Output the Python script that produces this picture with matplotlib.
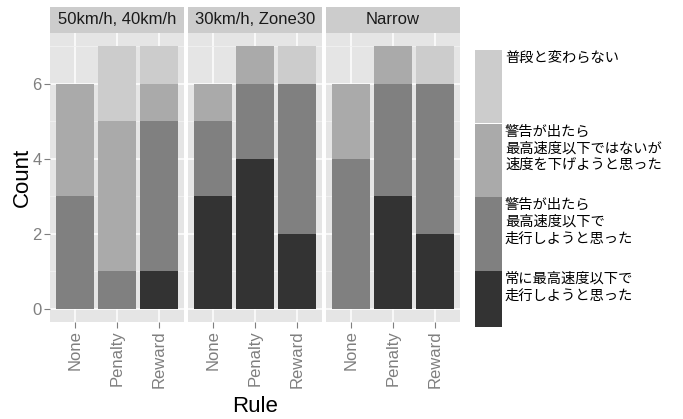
import matplotlib

matplotlib.use("Agg")

import matplotlib.pyplot as plt
import numpy as np
from matplotlib.patches import Rectangle

plt.rcParams["font.family"] = ["Liberation Sans", "Noto Sans CJK JP", "DejaVu Sans"]

FACETS = ["50km/h, 40km/h", "30km/h, Zone30", "Narrow"]
RULES = ["None", "Penalty", "Reward"]

# stacked bottom -> top, one row per facet, one column per rule
ALWAYS = [[0, 0, 1], [3, 4, 2], [0, 3, 2]]
WARN_LIMIT = [[3, 1, 4], [2, 2, 4], [4, 3, 4]]
WARN_SLOW = [[3, 4, 1], [1, 1, 0], [2, 1, 0]]
USUAL = [[0, 2, 1], [0, 0, 1], [0, 0, 1]]

LABELS = [
    "常に最高速度以下で\n走行しようと思った",
    "警告が出たら\n最高速度以下で\n走行しようと思った",
    "警告が出たら\n最高速度以下ではないが\n速度を下げようと思った",
    "普段と変わらない",
]
FILLS = ["#333333", "#808080", "#AAAAAA", "#CCCCCC"]

W, H = 683, 419
TICK_GRAY = "#7F7F7F"


def fx(px):
    return px / W


def fy(py):
    return 1 - py / H


def style(ax, first):
    ax.set_facecolor("#E5E5E5")
    for s in ax.spines.values():
        s.set_visible(False)
    ax.set_xlim(0.4, 3.6)
    ax.set_ylim(-0.35, 7.35)
    ax.set_yticks([0, 2, 4, 6])
    ax.set_yticks([1, 3, 5, 7], minor=True)
    ax.set_xticks(range(1, 4))
    ax.set_xticklabels(RULES, rotation=90)
    ax.grid(which="major", color="white", linewidth=1.1)
    ax.grid(which="minor", axis="y", color="#F2F2F2", linewidth=0.6)
    ax.set_axisbelow(True)
    ax.tick_params(which="major", color=TICK_GRAY, length=4, width=0.8,
                   labelcolor=TICK_GRAY, labelsize=12, pad=2)
    ax.tick_params(which="minor", length=0)
    if not first:
        ax.tick_params(axis="y", which="major", length=0, labelleft=False)


fig = plt.figure(figsize=(W / 100, H / 100), dpi=100)
fig.patch.set_facecolor("white")

panel_left = [50, 188, 326]
panel_w = 134
series = [ALWAYS, WARN_LIMIT, WARN_SLOW, USUAL]
x = np.arange(1, 4)

for i, facet in enumerate(FACETS):
    ax = fig.add_axes([fx(panel_left[i]), fy(322), panel_w / W, (322 - 33) / H])
    bottom = np.zeros(3)
    for vals, col in zip(series, FILLS):
        v = np.asarray(vals[i], dtype=float)
        ax.bar(x, v, width=0.9, bottom=bottom, color=col, linewidth=0)
        bottom += v
    style(ax, i == 0)

    strip = fig.add_axes([fx(panel_left[i]), fy(33), panel_w / W, 26 / H])
    strip.set_facecolor("#CCCCCC")
    strip.set_xticks([])
    strip.set_yticks([])
    for s in strip.spines.values():
        s.set_visible(False)
    strip.text(0.5, 0.5, facet, ha="center", va="center", fontsize=12,
               color="#1A1A1A", transform=strip.transAxes)

fig.text(fx(22), fy(177), "Count", rotation=90, ha="center", va="center", fontsize=16)
fig.text(fx(255), fy(406), "Rule", ha="center", va="center", fontsize=16)

# legend drawn in pixel coordinates
leg = fig.add_axes([0, 0, 1, 1], facecolor="none")
leg.set_xlim(0, W)
leg.set_ylim(H, 0)
leg.axis("off")
key_tops = [271, 197, 123.5, 50]
key_bottoms = [327, 271, 197, 123.5]
for lab, col, top, bot in zip(LABELS, FILLS, key_tops, key_bottoms):
    leg.add_patch(Rectangle((475, top), 27, bot - top, facecolor=col, edgecolor="none"))
    leg.text(505, top + 1, lab, ha="left", va="top", fontsize=10.3,
             family=["Noto Sans CJK JP", "DejaVu Sans"], color="black", linespacing=1.25)

fig.savefig("out.png", dpi=100, facecolor="white")
